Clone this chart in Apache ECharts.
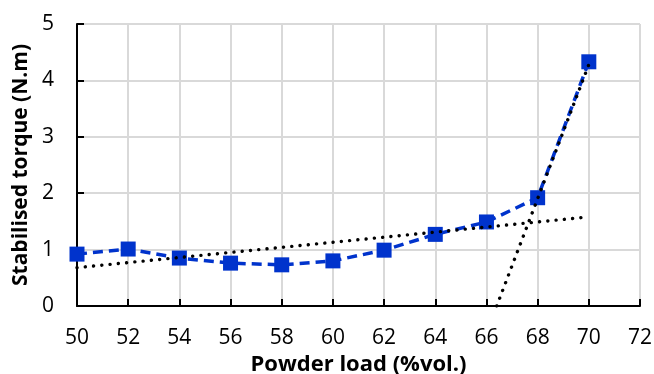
<!DOCTYPE html>
<html>
<head>
<meta charset="utf-8">
<script src="https://cdn.jsdelivr.net/npm/echarts@6/dist/echarts.min.js"></script>
<style>
  html, body { margin: 0; padding: 0; background: #fff; }
  #chart { width: 654px; height: 374px; }
</style>
</head>
<body>
<div id="chart"></div>
<script>
// powder load (%vol.) and measured stabilised torque (N.m)
const powderLoad = [50, 52, 54, 56, 58, 60, 62, 64, 66, 68, 70];
const torque = [0.92, 1.01, 0.85, 0.76, 0.73, 0.80, 0.99, 1.27, 1.49, 1.92, 4.33];

// dotted trend lines (end points)
const trendLowX = [50, 70];
const trendLowY = [0.68, 1.58];
const trendHighX = [66.4, 70];
const trendHighY = [0, 4.28];

const xTicks = [50, 52, 54, 56, 58, 60, 62, 64, 66, 68, 70, 72];
const yTicks = [0, 1, 2, 3, 4, 5];

const font = "'Open Sans', Lato, sans-serif";
const blue = "#0033cc";

const pairs = (xs, ys) => xs.map((x, i) => [x, ys[i]]);

const chart = echarts.init(document.getElementById("chart"), null, { renderer: "canvas" });

const dotted = {
  color: "#000",
  width: 3.4,
  type: [0.1, 8.2],
  cap: "round",
};

chart.setOption({
  animation: false,
  // keep the plot box fixed, labels may sit close to the edge
  grid: { left: 77, right: 14, top: 24, bottom: 68, outerBoundsMode: "none" },
  xAxis: {
    type: "value",
    min: xTicks[0],
    max: xTicks[xTicks.length - 1],
    interval: 2,
    name: "Powder load (%vol.)",
    nameLocation: "middle",
    nameGap: 47,
    nameTextStyle: { fontFamily: font, fontWeight: "bold", fontSize: 22, color: "#000" },
    axisLine: { lineStyle: { color: "#000", width: 2 } },
    axisTick: { inside: true, length: 7, lineStyle: { color: "#000", width: 2 } },
    axisLabel: { fontFamily: font, fontSize: 21, color: "#000", margin: 22 },
    splitLine: { show: true, lineStyle: { color: "#d9d9d9", width: 2 } },
  },
  yAxis: {
    type: "value",
    min: yTicks[0],
    max: yTicks[yTicks.length - 1],
    interval: 1,
    name: "Stabilised torque (N.m)",
    nameLocation: "middle",
    nameGap: 40,
    nameTextStyle: { fontFamily: font, fontWeight: "bold", fontSize: 21, color: "#000" },
    axisLine: { show: true, lineStyle: { color: "#000", width: 2 } },
    axisTick: { show: true, inside: true, length: 7, lineStyle: { color: "#000", width: 2 } },
    axisLabel: { fontFamily: font, fontSize: 21, color: "#000", margin: 23 },
    splitLine: { show: true, lineStyle: { color: "#d9d9d9", width: 2 } },
  },
  series: [
    {
      type: "line",
      data: pairs(trendLowX, trendLowY),
      showSymbol: false,
      lineStyle: dotted,
      z: 3,
    },
    {
      type: "line",
      data: pairs(powderLoad, torque),
      symbol: "rect",
      symbolSize: 15,
      itemStyle: { color: blue },
      lineStyle: { color: blue, width: 3.5, type: [10, 6] },
      z: 2,
    },
    {
      type: "line",
      data: pairs(trendHighX, trendHighY),
      showSymbol: false,
      lineStyle: dotted,
      z: 4,
    },
  ],
});
</script>
</body>
</html>
